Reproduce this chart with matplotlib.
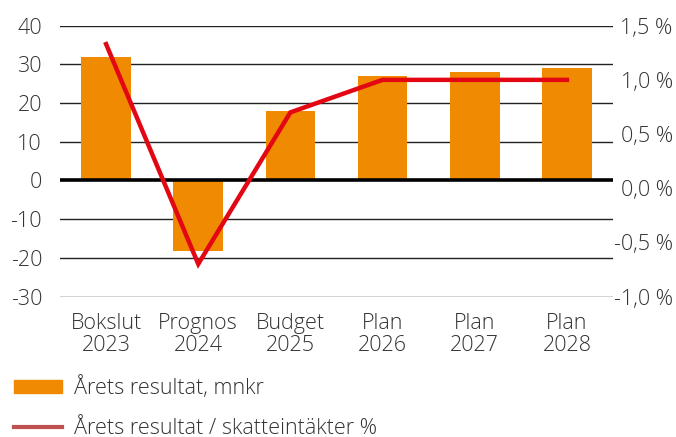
import matplotlib.pyplot as plt
from matplotlib.patches import Rectangle
from matplotlib.lines import Line2D

categories = ['Bokslut\n2023', 'Prognos\n2024', 'Budget\n2025', 'Plan\n2026', 'Plan\n2027', 'Plan\n2028']
result_mnkr = [32, -18.3, 18, 27, 28, 29]
result_pct = [1.33, -0.7, 0.7, 1.0, 1.0, 1.0]
left_ticks = [-30, -20, -10, 0, 10, 20, 30, 40]
right_ticks = [-1.0, -0.5, 0.0, 0.5, 1.0, 1.5]

bar_color = '#F08A00'
line_color = '#E30613'
text_color = '#333333'

plt.rcParams['font.family'] = ['Open Sans', 'DejaVu Sans']
plt.rcParams['font.weight'] = 'light'
fs = 15.5

W, H = 676, 437
fig = plt.figure(figsize=(W / 100, H / 100), dpi=100)
ax = fig.add_axes([60 / W, 1 - 296.5 / H, 553 / W, 270.8 / H])

x = list(range(len(categories)))
ax.bar(x, result_mnkr, width=0.54, color=bar_color, zorder=2)
ax.set_ylim(-30, 40)
ax.set_xlim(-0.5, len(categories) - 0.5)
ax.set_yticks(left_ticks)
ax.set_yticklabels([str(t) for t in left_ticks])
for t in left_ticks:
    if t == 0:
        ax.axhline(0, color='black', lw=2.6, zorder=3)
    else:
        ax.axhline(t, color='#222222', lw=1.0, zorder=1)
ax.set_xticks(x)
ax.set_xticklabels(categories, linespacing=1.05)
ax.tick_params(axis='both', length=0, colors=text_color, labelsize=fs)
ax.tick_params(axis='y', pad=13)
ax.tick_params(axis='x', pad=12)
for s in ax.spines.values():
    s.set_visible(False)

ax2 = ax.twinx()
ax2.plot(x, result_pct, color=line_color, lw=3.2, zorder=4, solid_joinstyle='miter')
ax2.set_ylim(-1.0, 1.5)
ax2.set_yticks(right_ticks)
ax2.set_yticklabels([f'{t:.1f} %'.replace('.', ',') for t in right_ticks], ha='right')
ax2.tick_params(axis='y', length=0, colors=text_color, labelsize=fs, pad=43)
for s in ax2.spines.values():
    s.set_visible(False)

# legend below the chart
fig.add_artist(Rectangle((14 / W, 1 - 393 / H), 48 / W, 13 / H,
                         transform=fig.transFigure, color=bar_color))
fig.text(74 / W, 1 - 388 / H, 'Årets resultat, mnkr', va='center', ha='left',
         color=text_color, fontsize=fs)
fig.add_artist(Line2D([14 / W, 62 / W], [1 - 427 / H, 1 - 427 / H],
                      transform=fig.transFigure, color='#C0504D', lw=3))
fig.text(74 / W, 1 - 428 / H, 'Årets resultat / skatteintäkter %', va='center', ha='left',
         color=text_color, fontsize=fs)

fig.savefig('out.png', dpi=100)
